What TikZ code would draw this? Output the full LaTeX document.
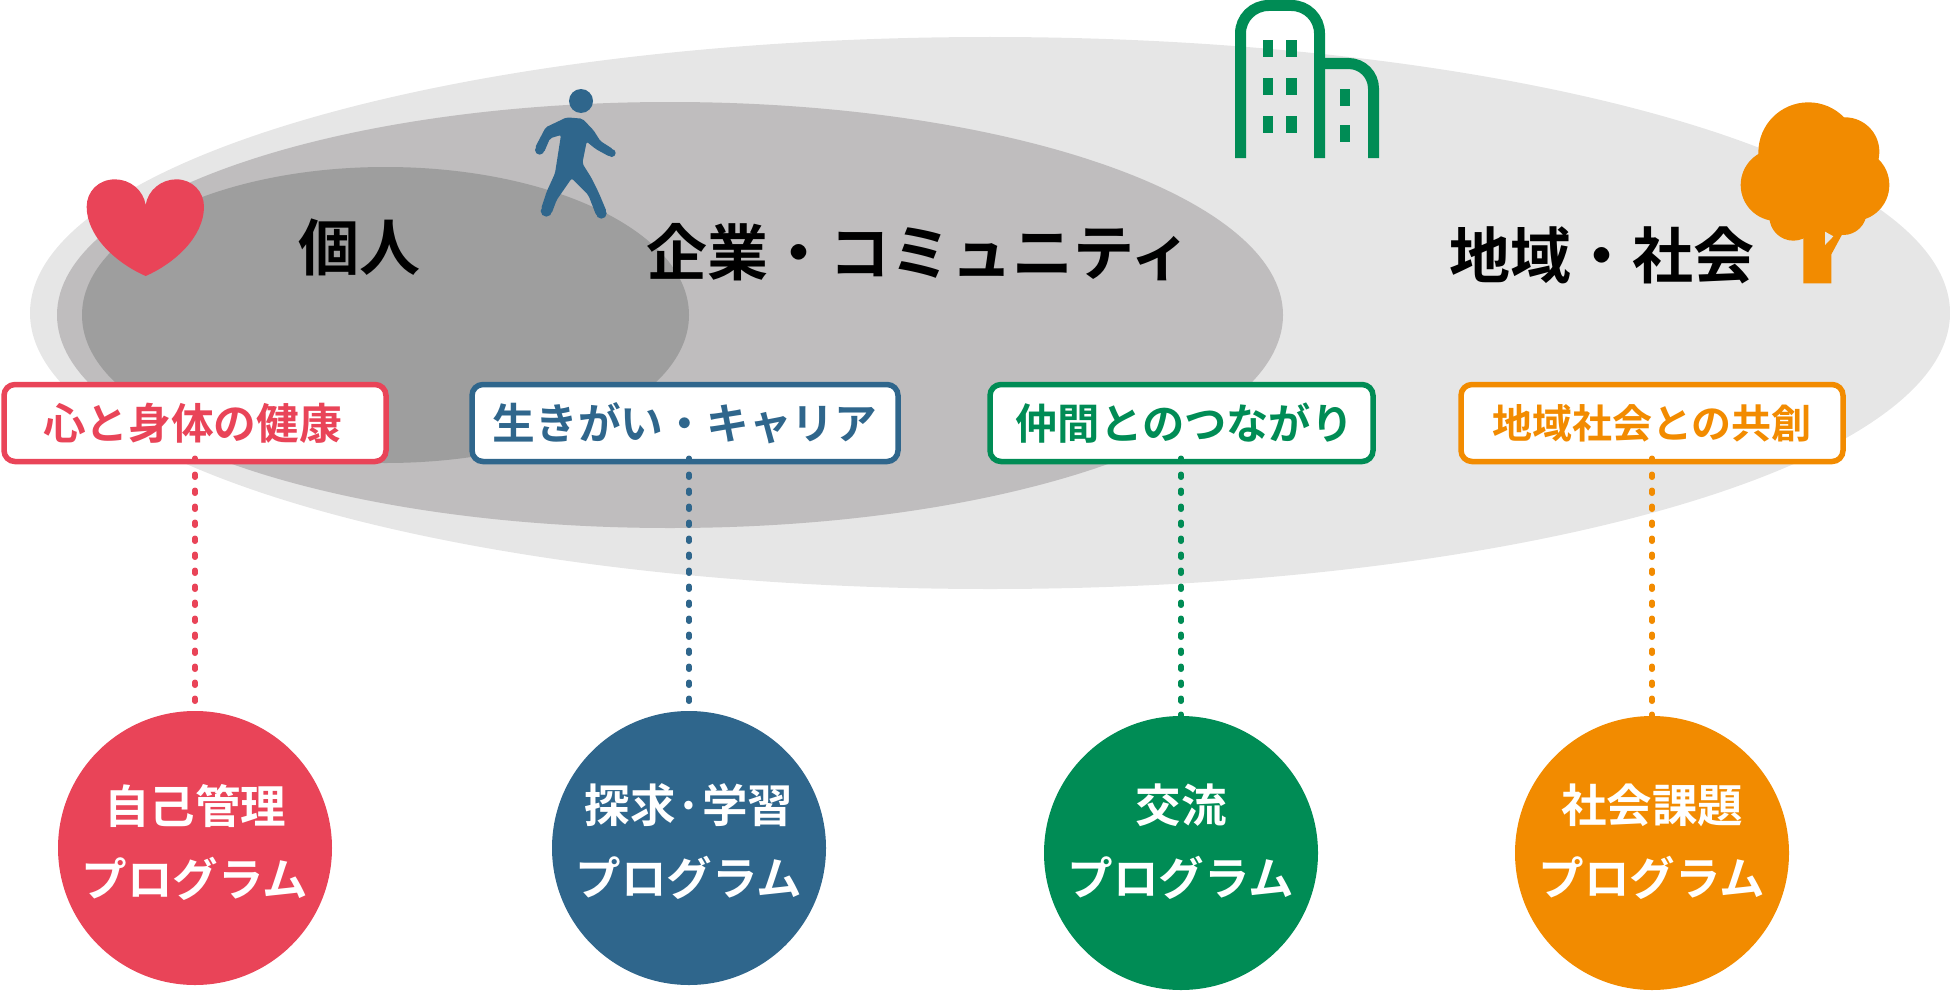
\documentclass[tikz,border=0pt]{standalone}
\usepackage{fontspec}
\setmainfont{Noto Sans CJK JP}[BoldFont={Noto Sans CJK JP Bold}]
\usetikzlibrary{shapes.geometric}
\definecolor{cred}{HTML}{E94458}
\definecolor{cblue}{HTML}{2F668C}
\definecolor{cgreen}{HTML}{008C55}
\definecolor{corange}{HTML}{F28B00}
\definecolor{gout}{HTML}{E6E6E6}
\definecolor{gmid}{HTML}{BFBDBE}
\definecolor{gin}{HTML}{9E9E9E}
\tikzset{
  oval/.style={ellipse,inner sep=0pt,outer sep=0pt,draw=none},
  scopetext/.style={font=\bfseries\fontsize{61}{70}\selectfont,text=black,inner sep=0pt},
  tagbox/.style={draw=#1,fill=white,line width=5.5pt,rounded corners=11pt,text=#1,
     font=\bfseries\fontsize{42.7}{50}\selectfont,inner sep=0pt,minimum height=77pt,align=center},
  prog/.style={circle,fill=#1,inner sep=0pt,outer sep=0pt,minimum size=274pt},
  progtext/.style={text=white,inner sep=0pt,align=center,font=\bfseries\fontsize{45.5}{73}\selectfont},
  link/.style={draw=#1,line width=5.5pt,line cap=round,dash pattern=on 3pt off 13pt},
  zoomed/.style={shift={#1},x=0.33333pt,y=-0.33333pt},
}
\begin{document}
\begin{tikzpicture}[x=1pt,y=-1pt]
\useasboundingbox (0,0) rectangle (1950,990);
% scopes
\node[oval,fill=gout,minimum width=1920pt,minimum height=552pt] (outer) at (990,313) {};
\node[oval,fill=gmid,minimum width=1226pt,minimum height=426pt] (middle) at (670,315) {};
\node[oval,fill=gin,minimum width=607pt,minimum height=296pt] (inner) at (385.5,315) {};
% scope labels
\node[scopetext] (lindiv) at (359,247.5) {個人};
\node[scopetext] (lcomp) at (919,252.5) {企業・コミュニティ};
\node[scopetext] (lsoc) at (1601.5,255) {地域・社会};
% heart
\begin{scope}[zoomed={(80,170)}]
\fill[cred] (197,105)
  .. controls (190,60) and (150,28) .. (105,28)
  .. controls (55,28) and (20,65) .. (20,110)
  .. controls (20,200) and (110,280) .. (197,318)
  .. controls (284,280) and (372,200) .. (372,110)
  .. controls (372,65) and (337,28) .. (289,28)
  .. controls (244,28) and (204,60) .. (197,105) -- cycle;
\end{scope}
% walker
\begin{scope}[zoomed={(525,85)}]
\fill[cblue] (168,48) circle (36);
\fill[cblue,rounded corners=2pt] (62,127) -- (125,97) -- (172,101) -- (205,135) -- (226,168)
  -- (265,193) -- (254,215) -- (212,192) -- (185,170) -- (172,235) -- (200,280) -- (222,325)
  -- (245,380) -- (214,392) -- (190,330) -- (140,280) -- (95,345) -- (80,385) -- (48,372)
  -- (65,320) -- (90,265) -- (108,150) -- (75,160) -- (57,202) -- (30,188) -- cycle;
\fill[cblue] (44,195) circle (14);
\fill[cblue] (260,204) circle (12);
\fill[cblue] (64,378) circle (17);
\fill[cblue] (229,385) circle (16);
\end{scope}
% building
\draw[cgreen,line width=11pt,rounded corners=28pt]
  (1240.5,158) -- (1240.5,5.5) -- (1319.5,5.5) -- (1319.5,158);
\draw[cgreen,line width=11pt,rounded corners=25pt]
  (1319,63.5) -- (1373.5,63.5) -- (1373.5,158);
\foreach \y in {40,78,116}{
  \fill[cgreen] (1262.5,\y) rectangle (1273,\y+17);
  \fill[cgreen] (1285.5,\y) rectangle (1296.5,\y+17);
}
\foreach \y in {89,125}{\fill[cgreen] (1340,\y) rectangle (1350,\y+17);}
% tree
\begin{scope}[zoomed={(1730,95)}]
\fill[corange] (235,172) circle (150);
\fill[corange] (345,170) circle (103);
\fill[corange] (370,270) circle (108);
\fill[corange] (140,270) circle (108);
\fill[corange] (190,365) circle (72);
\fill[corange] (340,350) circle (70);
\fill[corange] (220,250) -- (220,565) -- (304,565) -- (304,478) -- (338,415) -- (338,250) -- cycle;
\fill[gout] (285,410) -- (310,424) -- (285,450) -- cycle;
\end{scope}
% tags
\node[tagbox=cred,minimum width=382pt] (t1) at (195,423) {心と身体の健康\hspace*{5pt}};
\node[tagbox=cblue,minimum width=426pt] (t2) at (685,423) {生きがい・キャリア};
\node[tagbox=cgreen,minimum width=383pt,font=\bfseries\fontsize{42.3}{50}\selectfont] (t3) at (1181.5,423) {\hspace*{6pt}仲間とのつながり};
\node[tagbox=corange,minimum width=382pt,font=\bfseries\fontsize{40}{48}\selectfont] (t4) at (1652,423) {地域社会との共創};
% programmes
\node[prog=cred] (p1) at (195,848) {};
\node[prog=cblue] (p2) at (689,848) {};
\node[prog=cgreen] (p3) at (1181,853) {};
\node[prog=corange] (p4) at (1652,853) {};
\node[progtext] (n1) at (195,842) {自己管理\\プログラム};
\node[progtext] (n2) at (689,842) {探求·学習\\プログラム};
\node[progtext] (n3) at (1181,842) {交流\\プログラム};
\node[progtext] (n4) at (1652,842) {社会課題\\プログラム};
% links
\draw[link=cred] ([yshift=6pt]t1.south -| p1.north) -- (p1.north);
\draw[link=cblue] ([yshift=6pt]t2.south -| p2.north) -- (p2.north);
\draw[link=cgreen] ([yshift=6pt]t3.south -| p3.north) -- (p3.north);
\draw[link=corange] ([yshift=6pt]t4.south -| p4.north) -- (p4.north);
\end{tikzpicture}
\end{document}
